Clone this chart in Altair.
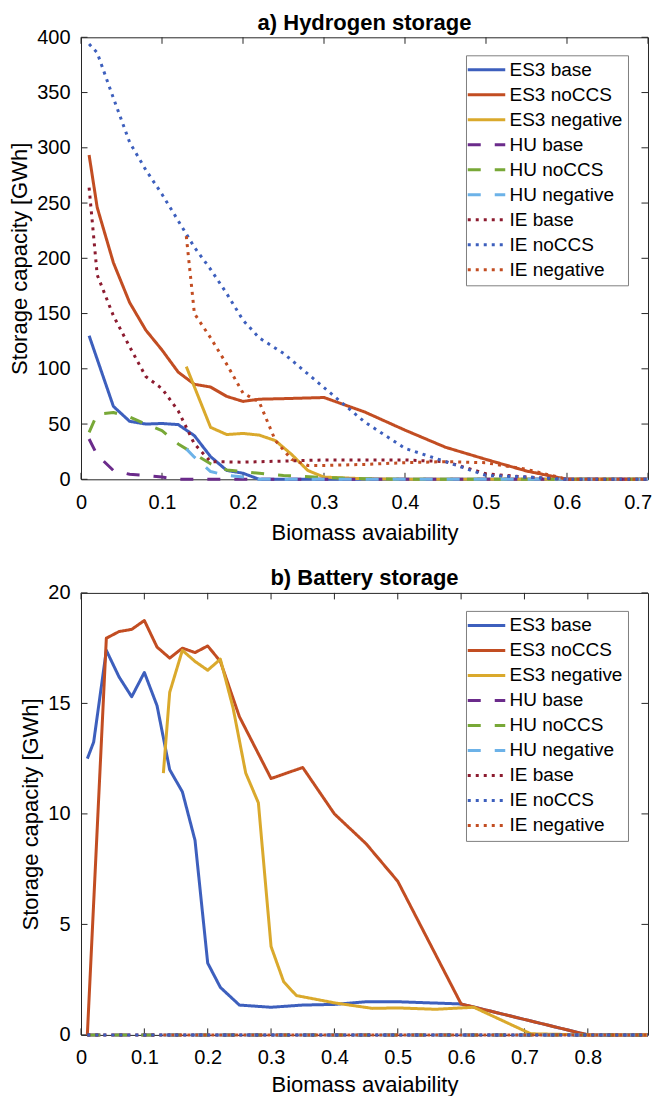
import altair as alt
import pandas as pd

SERIES = ["ES3 base", "ES3 noCCS", "ES3 negative", "HU base", "HU noCCS",
          "HU negative", "IE base", "IE noCCS", "IE negative"]
COLORS = ["#3d5fbd", "#c24d22", "#daa92c", "#6b2b8b", "#78a837",
          "#6cb2e8", "#8c1b2f", "#3d5fbd", "#c24d22"]
DASHES = [[1, 0], [1, 0], [1, 0], [13, 14], [13, 14], [13, 14], [3, 5], [3, 5], [3, 5]]

# ---------------- a) Hydrogen storage ----------------
h_es3_base_x = [0.01, 0.04, 0.06, 0.08, 0.1, 0.12, 0.14, 0.16, 0.18, 0.2, 0.22, 0.25, 0.3, 0.35, 0.4, 0.45, 0.5, 0.6, 0.7]
h_es3_base_y = [130, 66, 52.5, 50, 50.5, 49.5, 39.5, 20.5, 8, 5.5, 0, 0, 0, 0, 0, 0, 0, 0, 0]
h_es3_nocs_x = [0.01, 0.02, 0.04, 0.06, 0.08, 0.1, 0.12, 0.14, 0.16, 0.18, 0.2, 0.22, 0.25, 0.3, 0.35, 0.4, 0.45, 0.5, 0.55, 0.6, 0.7]
h_es3_nocs_y = [293.5, 246, 196, 160, 135, 117, 97, 86, 83.5, 75, 70.5, 72.5, 73, 74, 61, 44.5, 29, 18, 7.5, 0, 0]
h_es3_neg_x = [0.13, 0.16, 0.18, 0.2, 0.22, 0.24, 0.26, 0.28, 0.3, 0.35, 0.4, 0.5, 0.6, 0.7]
h_es3_neg_y = [102, 47, 40.5, 41.5, 40, 35, 22.5, 8, 2, 0.5, 0, 0, 0, 0]
h_hu_base_x = [0.01, 0.02, 0.04, 0.06, 0.08, 0.1, 0.12, 0.14, 0.2, 0.3, 0.4, 0.5, 0.6, 0.7]
h_hu_base_y = [36.5, 22, 8, 4.5, 3.5, 2, 0, 0, 0, 0, 0, 0, 0, 0]
h_hu_nocs_x = [0.01, 0.02, 0.04, 0.06, 0.08, 0.1, 0.12, 0.14, 0.16, 0.18, 0.2, 0.22, 0.25, 0.3, 0.35, 0.4, 0.5, 0.6, 0.7]
h_hu_nocs_y = [42.5, 59, 60.5, 56.5, 50, 44, 32, 23, 14, 8.5, 7, 5.5, 3.5, 1.5, 0.5, 0, 0, 0, 0]
h_hu_neg_x = [0.13, 0.14, 0.16, 0.18, 0.2, 0.22, 0.3, 0.4, 0.5, 0.6, 0.7]
h_hu_neg_y = [27.5, 20, 7, 3.5, 2, 0, 0, 0, 0, 0, 0]
h_ie_base_x = [0.01, 0.02, 0.04, 0.06, 0.08, 0.1, 0.12, 0.14, 0.16, 0.2, 0.25, 0.3, 0.35, 0.4, 0.45, 0.5, 0.55, 0.6, 0.7]
h_ie_base_y = [264, 185, 148, 120, 93, 82, 62, 32, 16, 15.5, 16.5, 17.5, 17.5, 17.5, 16, 5, 2, 0, 0]
h_ie_nocs_x = [0.01, 0.02, 0.04, 0.06, 0.08, 0.1, 0.12, 0.14, 0.16, 0.18, 0.2, 0.22, 0.25, 0.3, 0.35, 0.4, 0.45, 0.5, 0.55, 0.6, 0.7]
h_ie_nocs_y = [394, 386, 345, 305, 280, 258, 234, 210, 190, 168, 144, 128, 114, 83, 52, 28, 16, 3.5, 2, 0, 0]
h_ie_neg_x = [0.13, 0.14, 0.16, 0.18, 0.2, 0.22, 0.24, 0.26, 0.28, 0.3, 0.35, 0.4, 0.45, 0.5, 0.55, 0.6, 0.7]
h_ie_neg_y = [220, 150, 128, 104, 78, 70, 35, 18, 12.5, 12.5, 13.5, 15, 16, 15, 9, 0, 0]

# ---------------- b) Battery storage ----------------
b_es3_base_x = [0.01, 0.02, 0.04, 0.06, 0.08, 0.1, 0.12, 0.14, 0.16, 0.18, 0.2, 0.22, 0.25, 0.3, 0.35, 0.4, 0.45, 0.5, 0.6, 0.7, 0.8, 0.895]
b_es3_base_y = [12.5, 13.25, 17.4, 16.2, 15.3, 16.4, 14.9, 12.0, 11.0, 8.8, 3.25, 2.15, 1.35, 1.25, 1.35, 1.38, 1.5, 1.5, 1.4, 0.7, 0, 0]
b_es3_nocs_x = [0.01, 0.04, 0.06, 0.08, 0.1, 0.12, 0.14, 0.16, 0.18, 0.2, 0.22, 0.25, 0.3, 0.35, 0.4, 0.45, 0.5, 0.6, 0.7, 0.8, 0.895]
b_es3_nocs_y = [0, 17.95, 18.25, 18.35, 18.75, 17.55, 17.05, 17.5, 17.3, 17.6, 16.9, 14.4, 11.6, 12.1, 10.0, 8.65, 6.95, 1.4, 0.7, 0, 0]
b_es3_neg_x = [0.13, 0.14, 0.16, 0.18, 0.2, 0.22, 0.24, 0.26, 0.28, 0.3, 0.32, 0.34, 0.4, 0.46, 0.5, 0.56, 0.62, 0.71, 0.8, 0.895]
b_es3_neg_y = [11.85, 15.5, 17.4, 16.9, 16.5, 17.0, 14.8, 11.85, 10.5, 4.0, 2.4, 1.78, 1.45, 1.2, 1.22, 1.16, 1.25, 0.05, 0, 0]
b_hu_base_x = [0.01, 0.895]
b_hu_base_y = [0, 0]
b_hu_nocs_x = [0.01, 0.895]
b_hu_nocs_y = [0, 0]
b_hu_neg_x = [0.13, 0.895]
b_hu_neg_y = [0, 0]
b_ie_base_x = [0.01, 0.895]
b_ie_base_y = [0, 0]
b_ie_nocs_x = [0.01, 0.895]
b_ie_nocs_y = [0, 0]
b_ie_neg_x = [0.13, 0.895]
b_ie_neg_y = [0, 0]

H_X_TICKS = [0, 0.1, 0.2, 0.3, 0.4, 0.5, 0.6, 0.7]
H_Y_TICKS = [0, 50, 100, 150, 200, 250, 300, 350, 400]
B_X_TICKS = [0, 0.1, 0.2, 0.3, 0.4, 0.5, 0.6, 0.7, 0.8]
B_Y_TICKS = [0, 5, 10, 15, 20]

W, H = 567, 442
FONT = "Liberation Sans"
AX = "#262626"
TL = 6.5


def frame(pairs):
    rows = []
    for name, (xs, ys) in zip(SERIES, pairs):
        for xv, yv in zip(xs, ys):
            rows.append({"series": name, "x": xv, "y": yv})
    return pd.DataFrame(rows)


def panel(df, title, xdom, xticks, ydom, yticks, edge, xtitle_pad):
    xs = alt.Scale(domain=xdom, nice=False, zero=False)
    ys = alt.Scale(domain=ydom, nice=False, zero=False)
    xt = "Biomass avaiability"
    yt = "Storage capacity [GWh]"
    leg = alt.Legend(orient="none", legendX=385, legendY=18, title=None,
                     symbolType="M-2.5,0L2.5,0", symbolSize=225, symbolStrokeWidth=3,
                     symbolOffset=6,
                     labelFontSize=19, labelFont=FONT, labelColor="black",
                     padding=5, rowPadding=5, labelOffset=13.5,
                     strokeColor="#808080", fillColor="white")
    test = "datum.value >= %g" % edge
    lines = alt.Chart(df).mark_line(strokeWidth=3, strokeCap="butt", strokeJoin="round").encode(
        x=alt.X("x:Q", scale=xs, title=xt,
                axis=alt.Axis(values=xticks, format=".4~g", ticks=False, tickSize=0,
                              domain=False, grid=False, labelPadding=13, titlePadding=xtitle_pad,
                              labelAlign={"condition": {"test": test, "value": "right"}, "value": "center"},
                              labelOffset={"condition": {"test": test, "value": 3.5}, "value": 0})),
        y=alt.Y("y:Q", scale=ys, title=yt,
                axis=alt.Axis(values=yticks, format=".4~g", ticks=False, tickSize=0,
                              domain=False, grid=False, labelPadding=11, titlePadding=5)),
        color=alt.Color("series:N", scale=alt.Scale(domain=SERIES, range=COLORS), legend=leg),
        strokeDash=alt.StrokeDash("series:N", scale=alt.Scale(domain=SERIES, range=DASHES), legend=leg),
    )
    tx = pd.DataFrame({"x": xticks})
    ty = pd.DataFrame({"y": yticks})
    bot = alt.Chart(tx).mark_rule(color=AX, strokeWidth=1).encode(
        x=alt.X("x:Q", scale=xs, title=xt), y=alt.value(H), y2=alt.value(H - TL))
    top = alt.Chart(tx).mark_rule(color=AX, strokeWidth=1).encode(
        x=alt.X("x:Q", scale=xs, title=xt), y=alt.value(0), y2=alt.value(TL))
    lef = alt.Chart(ty).mark_rule(color=AX, strokeWidth=1).encode(
        y=alt.Y("y:Q", scale=ys, title=yt), x=alt.value(0), x2=alt.value(TL))
    rig = alt.Chart(ty).mark_rule(color=AX, strokeWidth=1).encode(
        y=alt.Y("y:Q", scale=ys, title=yt), x=alt.value(W), x2=alt.value(W - TL))
    ttl = alt.Chart(pd.DataFrame({"t": [title]})).mark_text(
        font=FONT, fontSize=22, fontWeight="bold", color="black",
        align="center", baseline="alphabetic").encode(
        text="t:N", x=alt.value(W / 2), y=alt.value(-7.4))
    return alt.layer(bot, top, lef, rig, lines, ttl).properties(width=W, height=H)


dfa = frame([(h_es3_base_x, h_es3_base_y), (h_es3_nocs_x, h_es3_nocs_y), (h_es3_neg_x, h_es3_neg_y),
             (h_hu_base_x, h_hu_base_y), (h_hu_nocs_x, h_hu_nocs_y), (h_hu_neg_x, h_hu_neg_y),
             (h_ie_base_x, h_ie_base_y), (h_ie_nocs_x, h_ie_nocs_y), (h_ie_neg_x, h_ie_neg_y)])
dfb = frame([(b_es3_base_x, b_es3_base_y), (b_es3_nocs_x, b_es3_nocs_y), (b_es3_neg_x, b_es3_neg_y),
             (b_hu_base_x, b_hu_base_y), (b_hu_nocs_x, b_hu_nocs_y), (b_hu_neg_x, b_hu_neg_y),
             (b_ie_base_x, b_ie_base_y), (b_ie_nocs_x, b_ie_nocs_y), (b_ie_neg_x, b_ie_neg_y)])

pa = panel(dfa, "a) Hydrogen storage", [0, 0.7], H_X_TICKS, [0, 400], H_Y_TICKS, 0.69, 10)
pb = panel(dfb, "b) Battery storage", [0, 0.895], B_X_TICKS, [0, 20], B_Y_TICKS, 0.89, 6.5)

chart = alt.vconcat(pa, pb, spacing=22.6).resolve_scale(
    x="independent", y="independent", color="independent", strokeDash="independent"
).resolve_legend(color="independent", strokeDash="independent").properties(
    padding={"left": 0, "top": 3.3, "right": 0, "bottom": 0}, background="white"
).configure_view(stroke=AX, strokeWidth=1).configure_axis(
    labelFont=FONT, labelFontSize=20, labelColor="black",
    titleFont=FONT, titleFontSize=22, titleFontWeight="normal", titleColor="black"
)

chart.save("out.html", embed_options={"renderer": "svg", "actions": False})
